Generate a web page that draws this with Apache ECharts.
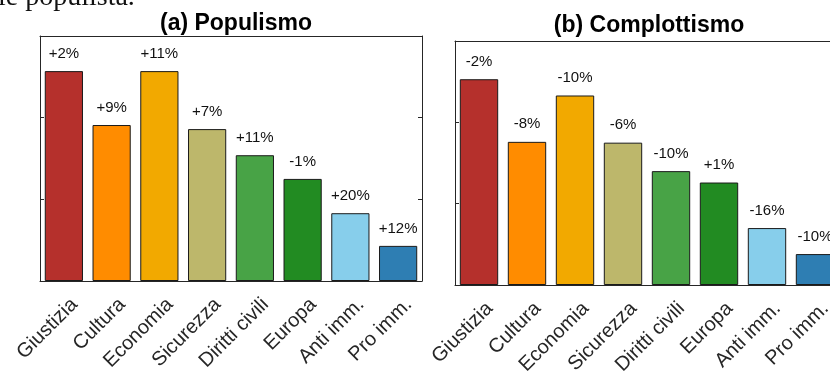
<!DOCTYPE html>
<html>
<head>
<meta charset="utf-8">
<style>
  html, body { margin: 0; padding: 0; background: #fff; overflow: hidden; }
  #chart { width: 842px; height: 372px; }
</style>
<script src="https://cdn.jsdelivr.net/npm/echarts@6/dist/echarts.min.js"></script>
</head>
<body>
<div id="chart"></div>
<script>
// Topic categories shared by both panels
const categories = ['Giustizia', 'Cultura', 'Economia', 'Sicurezza', 'Diritti civili', 'Europa', 'Anti imm.', 'Pro imm.'];
const barColors = ['#B5302C', '#FF8C00', '#F2A900', '#BDB76B', '#48A346', '#228B22', '#87CEEB', '#2E7EB3'];

// Panel (a): populism scores per topic and their relative changes
const populismValues = [2.57, 1.91, 2.57, 1.86, 1.54, 1.25, 0.83, 0.43];
const populismChanges = ['+2%', '+9%', '+11%', '+7%', '+11%', '-1%', '+20%', '+12%'];

// Panel (b): conspiracy scores per topic and their relative changes
const conspiracyValues = [2.53, 1.76, 2.33, 1.75, 1.40, 1.26, 0.70, 0.38];
const conspiracyChanges = ['-2%', '-8%', '-10%', '-6%', '-10%', '+1%', '-16%', '-10%'];

// Axis range
const yMin = 0, yMax = 3, yStep = 1;

const FONT = 'Liberation Sans, Arial, Helvetica, sans-serif';
const AXIS_COLOR = '#262626';

const chart = echarts.init(document.getElementById('chart'), null, { renderer: 'canvas' });

// Fixed plot boxes; labels may run past the canvas edge
const grids = [
  { left: 40, top: 36, width: 382, bottom: 91, outerBoundsMode: 'none', containLabel: false },
  { left: 455, top: 41, width: 384, bottom: 87, outerBoundsMode: 'none', containLabel: false }
];

function bottomAxis(gi) {
  return {
    type: 'category', gridIndex: gi, data: categories, position: 'bottom',
    axisLine: { onZero: false, lineStyle: { color: AXIS_COLOR, width: 1 } },
    axisTick: { inside: true, alignWithLabel: true, length: 4, lineStyle: { color: AXIS_COLOR } },
    axisLabel: {
      rotate: 45, fontSize: 20, color: '#262626', fontFamily: FONT,
      margin: 0, interval: 0, verticalAlign: 'top', padding: [12, 7, 0, 0],
      hideOverlap: false
    },
    z: 10
  };
}
function topAxis(gi) {
  return {
    type: 'category', gridIndex: gi, data: categories, position: 'top',
    axisLine: { onZero: false, lineStyle: { color: AXIS_COLOR, width: 1 } },
    axisTick: { inside: true, alignWithLabel: true, length: 4, lineStyle: { color: AXIS_COLOR } },
    axisLabel: { show: false },
    z: 10
  };
}
function sideAxis(gi, pos) {
  return {
    type: 'value', gridIndex: gi, position: pos, min: yMin, max: yMax, interval: yStep,
    axisLine: { show: true, onZero: false, lineStyle: { color: AXIS_COLOR, width: 1 } },
    axisTick: { show: true, inside: true, length: 4, lineStyle: { color: AXIS_COLOR } },
    axisLabel: { show: false },
    splitLine: { show: false },
    z: 10
  };
}

function barSeries(xi, yi, values, changes) {
  return {
    type: 'bar', xAxisIndex: xi, yAxisIndex: yi,
    barCategoryGap: '20%',
    data: values.map((v, i) => ({
      value: v,
      itemStyle: { color: barColors[i], borderColor: '#1a1a1a', borderWidth: 1 }
    })),
    label: {
      show: true, position: 'top', distance: 10,
      formatter: p => changes[p.dataIndex],
      fontSize: 15, color: '#111', fontFamily: FONT
    }
  };
}

const option = {
  animation: false,
  backgroundColor: '#fff',
  title: [
    { text: '(a) Populismo', left: 231, top: 7, textAlign: 'center',
      textStyle: { fontSize: 23, fontWeight: 'bold', color: '#000', fontFamily: FONT } },
    { text: '(b) Complottismo', left: 644, top: 9, textAlign: 'center',
      textStyle: { fontSize: 23, fontWeight: 'bold', color: '#000', fontFamily: FONT } }
  ],
  graphic: [
    { type: 'text', left: -2, top: -16,
      style: { text: 'le populista.', font: '28px "Liberation Serif", "Times New Roman", serif', fill: '#111' } }
  ],
  grid: grids,
  xAxis: [bottomAxis(0), topAxis(0), bottomAxis(1), topAxis(1)],
  yAxis: [sideAxis(0, 'left'), sideAxis(0, 'right'), sideAxis(1, 'left'), sideAxis(1, 'right')],
  series: [
    barSeries(0, 0, populismValues, populismChanges),
    barSeries(2, 2, conspiracyValues, conspiracyChanges),
    // Empty series so the mirrored top/right axes of each panel are drawn
    { type: 'bar', xAxisIndex: 1, yAxisIndex: 1, data: [], silent: true },
    { type: 'bar', xAxisIndex: 3, yAxisIndex: 3, data: [], silent: true }
  ]
};

chart.setOption(option);
</script>
</body>
</html>
